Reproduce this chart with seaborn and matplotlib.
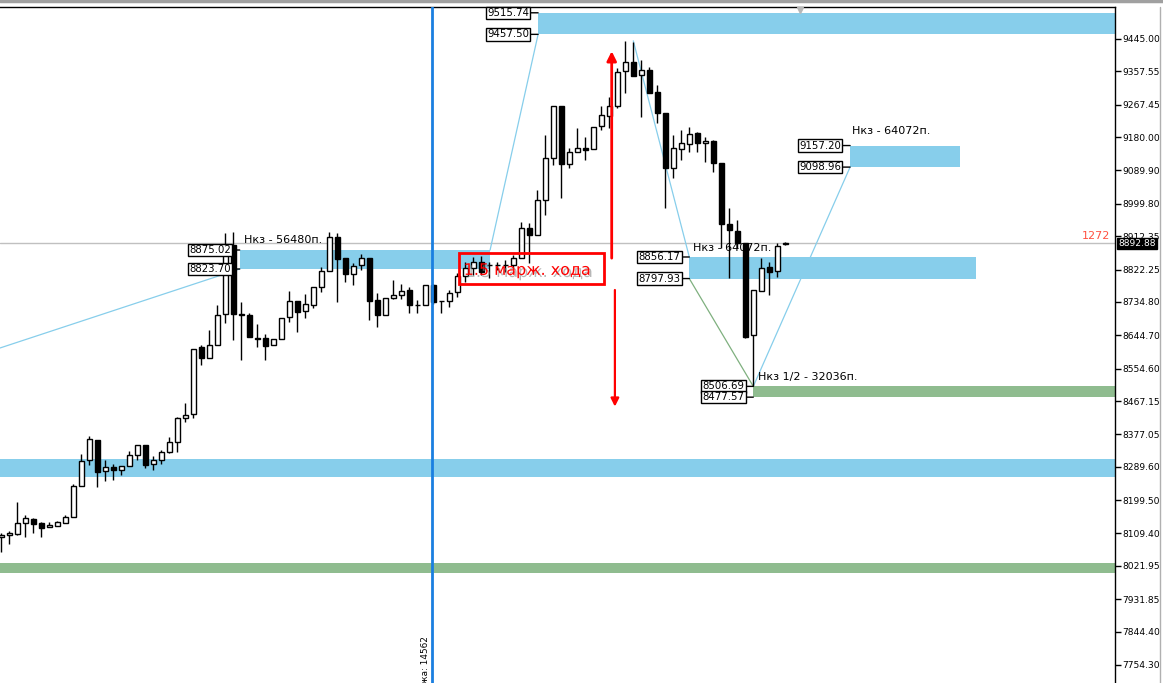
import matplotlib
matplotlib.use("Agg")
import matplotlib.pyplot as plt
import matplotlib.transforms as mtransforms
import matplotlib.patheffects as pe
from matplotlib.patches import Rectangle
import numpy as np
import pandas as pd
import seaborn as sns

# ---------------- data ----------------
opens = [8099, 8104.5, 8108.8, 8136.9, 8147.7, 8136.9, 8126.1, 8130.4, 8138.5, 8153.1,
         8236.8, 8307.0, 8361.1, 8277.3, 8288.1, 8280.0, 8290.8, 8320.5, 8347.5, 8296.2,
         8307.0, 8328.6, 8355.6, 8420.5, 8431.3, 8612.2, 8584.1, 8618.5, 8701.4, 8888.6,
         8701.4, 8699.5, 8638.2, 8636.6, 8618.5, 8633.9, 8693.3, 8738.1, 8710.3, 8726.5,
         8774.3, 8817.5, 8911.0, 8852.6, 8809.4, 8834.5, 8852.6, 8739.2, 8699.5, 8744.6,
         8753.5, 8767.0, 8726.5, 8726.5, 8779.7, 8737.3, 8738.1, 8760.8, 8805.6, 8825.6,
         8843.4, 8833.7, 8834.5, 8833.7, 8834.5, 8854.3, 8933.7, 8915.6, 9010.1, 9122.7,
         9264.8, 9106.5, 9138.9, 9151.4, 9147.0, 9210.0, 9237.0, 9264.0, 9358.5, 9382.0,
         9347.7, 9361.2, 9301.0, 9244.3, 9095.7, 9147.0, 9161.4, 9190.3, 9164.1, 9169.5,
         9109.2, 8944.5, 8926.4, 8893.1, 8645.5, 8764.3, 8828.3, 8818.3, 8892.6]
highs = [8112, 8115.3, 8193.6, 8158.5, 8152.0, 8139.6, 8139.6, 8142.3, 8158.5, 8243.0,
         8323.2, 8371.9, 8361.1, 8307.8, 8296.2, 8290.8, 8331.3, 8347.5, 8347.5, 8317.8,
         8334.0, 8369.1, 8423.2, 8461.0, 8606.8, 8618.5, 8659.0, 8726.5, 8920.2, 8924.5,
         8733.8, 8704.1, 8674.4, 8649.0, 8633.9, 8692.2, 8764.3, 8738.1, 8755.4, 8774.3,
         8828.3, 8922.9, 8920.2, 8852.6, 8839.1, 8863.4, 8852.6, 8758.1, 8744.6, 8794.0,
         8782.4, 8775.9, 8740.0, 8779.7, 8782.0, 8737.3, 8767.0, 8812.1, 8843.4, 8857.0,
         8859.7, 8842.6, 8842.6, 8848.0, 8861.5, 8951.5, 8947.2, 9037.1, 9185.7, 9264.8,
         9264.8, 9149.7, 9203.8, 9181.1, 9208.1, 9264.8, 9289.1, 9365.8, 9440.4, 9437.7,
         9388.2, 9370.1, 9320.7, 9244.3, 9185.7, 9199.2, 9208.1, 9194.6, 9181.1, 9172.2,
         9109.2, 8989.3, 8956.1, 8893.1, 8767.0, 8854.3, 8843.4, 8893.1, 8896.7]
lows = [8058, 8081.0, 8106, 8100.7, 8111.5, 8100.7, 8126.1, 8130.4, 8138.5, 8153.1,
        8236.8, 8293.5, 8235.7, 8251.9, 8254.6, 8268.1, 8290.8, 8307.8, 8287.0, 8281.6,
        8297.8, 8325.9, 8328.6, 8409.7, 8420.5, 8564.4, 8584.1, 8618.5, 8677.1, 8632.0,
        8577.9, 8639.3, 8613.9, 8577.9, 8618.5, 8633.9, 8679.8, 8654.4, 8690.6, 8719.2,
        8762.4, 8817.5, 8735.4, 8789.4, 8780.5, 8821.0, 8686.0, 8667.9, 8699.5, 8742.7,
        8742.7, 8704.1, 8704.1, 8726.5, 8728.0, 8704.1, 8721.9, 8748.9, 8789.4, 8807.5,
        8807.5, 8800.2, 8821.0, 8815.6, 8826.4, 8854.3, 8839.1, 8915.6, 8969.6, 9104.6,
        9014.7, 9097.3, 9138.9, 9118.1, 9147.0, 9199.2, 9203.8, 9257.8, 9299.9, 9345.0,
        9235.1, 9298.3, 9217.3, 8987.7, 9068.7, 9118.1, 9140.6, 9140.6, 9113.6, 9086.5,
        8879.6, 8798.6, 8879.6, 8636.6, 8506.7, 8764.3, 8753.5, 8802.9, 8888.6]
closes = [8105, 8110.7, 8136.9, 8150.4, 8135.8, 8125.0, 8131.5, 8139.6, 8153.1, 8236.8,
          8304.3, 8363.8, 8276.2, 8288.1, 8280.0, 8290.8, 8320.5, 8347.5, 8295.1, 8307.0,
          8328.6, 8355.6, 8420.5, 8428.6, 8606.8, 8582.5, 8618.5, 8699.5, 8888.6, 8701.4,
          8699.5, 8639.3, 8635.5, 8615.8, 8633.9, 8692.2, 8738.1, 8708.4, 8728.4, 8774.3,
          8817.5, 8911.0, 8849.9, 8809.4, 8832.6, 8852.6, 8737.3, 8699.5, 8744.6, 8753.5,
          8764.3, 8726.5, 8725.7, 8779.7, 8734.6, 8736.5, 8759.7, 8805.6, 8825.6, 8843.4,
          8816.4, 8834.5, 8833.7, 8834.5, 8854.3, 8933.7, 8915.6, 9010.1, 9122.7, 9264.8,
          9106.5, 9138.9, 9151.4, 9144.3, 9208.1, 9238.9, 9264.0, 9356.6, 9381.5, 9345.0,
          9361.2, 9298.3, 9244.3, 9095.7, 9149.7, 9163.2, 9188.4, 9163.2, 9169.5, 9109.2,
          8944.5, 8929.1, 8893.1, 8640.9, 8767.0, 8827.2, 8816.4, 8886.7, 8892.88]

ytick_values = [9445.00, 9357.55, 9267.45, 9180.00, 9089.90, 8999.80, 8912.35, 8822.25,
                8734.80, 8644.70, 8554.60, 8467.15, 8377.05, 8289.60, 8199.50, 8109.40,
                8021.95, 7931.85, 7844.40, 7754.30]

# supply/demand zones: (low, high, start index, end index or None=to right edge)
blue_zone_low = [9457.50, 8823.70, 9098.96, 8797.93, 8261.9]
blue_zone_high = [9515.74, 8875.02, 9157.20, 8856.17, 8310.5]
blue_zone_start = [67.1, 29.8, 106.1, 86.0, None]
blue_zone_end = [None, 61.1, 119.8, 121.8, None]
blue_zone_labeled = [True, True, True, True, False]

green_zone_low = [8477.57, 8002.6]
green_zone_high = [8506.69, 8029.6]
green_zone_start = [94.0, None]
green_zone_labeled = [True, False]

# zigzag helper lines (index, price)
zz_blue = [[(-0.16, 8610.4), (29.8, 8823.70)],
           [(61.1, 8875.02), (67.1, 9457.50)],
           [(79.0, 9440.0), (86.0, 8856.17)],
           [(94.0, 8506.69), (106.1, 9098.96)]]
zz_green = [[(86.0, 8797.93), (94.0, 8506.69)]]

nkz_texts = ["Нкз - 56480п.", "Нкз - 64072п.", "Нкз - 64072п.", "Нкз 1/2 - 32036п."]
nkz_x = [30.4, 106.4, 86.5, 94.6]
nkz_y = [8902, 9196, 8880, 8532]

last_price = 8892.88
vline_index = 53.8
vline_text = "ожа: 14562"

# ---------------- figure ----------------
sns.set_theme(style="white")
plt.rcParams['font.family'] = ['DejaVu Sans']

W, H = 1163, 683
fig = plt.figure(figsize=(W / 100, H / 100), dpi=100)
fig.patch.set_facecolor("white")
ax = fig.add_axes([0, 0, 1115 / W, 676 / H])
ax.set_facecolor("white")

xmin, xmax = -1.3 / 8, (1115 - 1.3) / 8
ymax, ymin = 9550.3 - 2.701 * 7, 9550.3 - 2.701 * 683
ax.set_xlim(xmin, xmax)
ax.set_ylim(ymin, ymax)

ZONE_BLUE = "#87CEEB"
ZONE_GREEN = "#8FBC8F"

# zones
for lo, hi, s, e in zip(blue_zone_low, blue_zone_high, blue_zone_start, blue_zone_end):
    s0 = xmin if s is None else s
    e0 = xmax if e is None else e
    ax.add_patch(Rectangle((s0, lo), e0 - s0, hi - lo, facecolor=ZONE_BLUE,
                           edgecolor="none", zorder=1))
for lo, hi, s in zip(green_zone_low, green_zone_high, green_zone_start):
    s0 = xmin if s is None else s
    ax.add_patch(Rectangle((s0, lo), xmax - s0, hi - lo, facecolor=ZONE_GREEN,
                           edgecolor="none", zorder=1))

# zigzag lines
for seg in zz_blue:
    df = pd.DataFrame(seg, columns=["x", "y"])
    sns.lineplot(data=df, x="x", y="y", ax=ax, color=ZONE_BLUE, lw=0.9,
                 estimator=None, sort=False, zorder=2)
for seg in zz_green:
    df = pd.DataFrame(seg, columns=["x", "y"])
    sns.lineplot(data=df, x="x", y="y", ax=ax, color="#7fb07f", lw=0.9,
                 estimator=None, sort=False, zorder=2)

# last-price line
ax.axhline(last_price, color="#c0c0c0", lw=1, zorder=1.5)

# nkz texts (beneath candles)
for t, x, y in zip(nkz_texts, nkz_x, nkz_y):
    ax.text(x, y, t, fontsize=8, color="black", ha="left", va="center", zorder=2.5)

# candles
idx = np.arange(len(opens))
o = np.array(opens); c = np.array(closes); h = np.array(highs); l = np.array(lows)
ax.vlines(idx, l, h, color="black", lw=1, zorder=3)
bull = c >= o
bottom = np.minimum(o, c)
height = np.maximum(np.abs(c - o), 1.5)
ax.bar(idx[bull], height[bull], bottom=bottom[bull], width=0.62, color="white",
       edgecolor="black", linewidth=1, zorder=4)
ax.bar(idx[~bull], height[~bull], bottom=bottom[~bull], width=0.62, color="black",
       edgecolor="black", linewidth=1, zorder=4)

# vertical blue line + text
ax.axvline(vline_index, color="#1a7fe0", lw=2, zorder=5)
trans_xd_ya = mtransforms.blended_transform_factory(ax.transData, ax.transAxes)
ax.text(vline_index - 0.2, (683 - 636) / 676, vline_text, rotation=90, fontsize=6.4,
        ha="right", va="top", transform=trans_xd_ya, color="black", zorder=5)

# zone price labels
def zone_label(x0, level):
    ax.annotate(f"{level:.2f}", xy=(x0, level), xytext=(-9, 0),
                textcoords="offset pixels", ha="right", va="center", fontsize=7.3,
                color="black", zorder=7,
                bbox=dict(boxstyle="square,pad=0.12", fc="white", ec="black", lw=1),
                arrowprops=dict(arrowstyle="-", color="black", lw=1, shrinkA=0, shrinkB=0))

for lo, hi, s, lab in zip(blue_zone_low, blue_zone_high, blue_zone_start, blue_zone_labeled):
    if lab:
        zone_label(s, hi)
        zone_label(s, lo)
for lo, hi, s, lab in zip(green_zone_low, green_zone_high, green_zone_start, green_zone_labeled):
    if lab:
        zone_label(s, hi)
        zone_label(s, lo)

# red box with text
ax.add_patch(Rectangle((57.2, 8783.2), 75.3 - 57.2, 8866.9 - 8783.2, facecolor="none",
                       edgecolor="#ff0000", lw=2, zorder=8))
ax.text(57.8, 8820, "1.5 марж. хода", fontsize=11.5, color="#ff0000", ha="left",
        va="center", zorder=8,
        path_effects=[pe.withSimplePatchShadow(offset=(1.5, -1.5), shadow_rgbFace="#888888",
                                               alpha=0.6)])

# red arrows
ax.annotate("", xy=(76.3, 9412), xytext=(76.3, 8853),
            arrowprops=dict(arrowstyle="-|>", color="#ff0000", lw=2, mutation_scale=14,
                            shrinkA=0, shrinkB=0), zorder=8)
ax.annotate("", xy=(76.7, 8452), xytext=(76.7, 8767),
            arrowprops=dict(arrowstyle="-|>", color="#ff0000", lw=1.6, mutation_scale=12,
                            shrinkA=0, shrinkB=0), zorder=8)

# "1272" label
trans_xa_yd = mtransforms.blended_transform_factory(ax.transAxes, ax.transData)
ax.text(1110 / 1115, last_price + 6, "1272", fontsize=8, color="#ff5040",
        ha="right", va="bottom", transform=trans_xa_yd, zorder=6)

# small marker at top
ax.plot([99.8], [ymax - 8], marker="v", color="#b8b8b8", markersize=5, zorder=6,
        clip_on=False)

# axis styling
ax.yaxis.tick_right()
ax.set_yticks(ytick_values)
ax.set_yticklabels([f"{v:.2f}" for v in ytick_values], fontsize=6.6, color="black")
ax.tick_params(axis="y", which="both", right=True, length=4, width=1, pad=1.5,
               colors="black", direction="out")
ax.set_xticks([])
ax.set_xlabel("")
ax.set_ylabel("")
for side in ["left", "bottom"]:
    ax.spines[side].set_visible(False)
for side in ["top", "right"]:
    ax.spines[side].set_visible(True)
    ax.spines[side].set_color("black")
    ax.spines[side].set_linewidth(1)

# current price box on axis
ax.text(1.0 + 3 / 1115, last_price, f"{last_price:.2f}", transform=trans_xa_yd,
        fontsize=6.6, color="white", ha="left", va="center", zorder=10, clip_on=False,
        bbox=dict(boxstyle="square,pad=0.15", fc="black", ec="black"))

# window frame details
fig.add_artist(plt.Line2D([0, 1], [1 - 1 / H, 1 - 1 / H], transform=fig.transFigure,
                          color="#a0a0a0", lw=2.5))
fig.add_artist(plt.Line2D([1160 / W, 1160 / W], [0, 1 - 7 / H], transform=fig.transFigure,
                          color="#b0b0b0", lw=1))

fig.savefig("out.png", dpi=100)
